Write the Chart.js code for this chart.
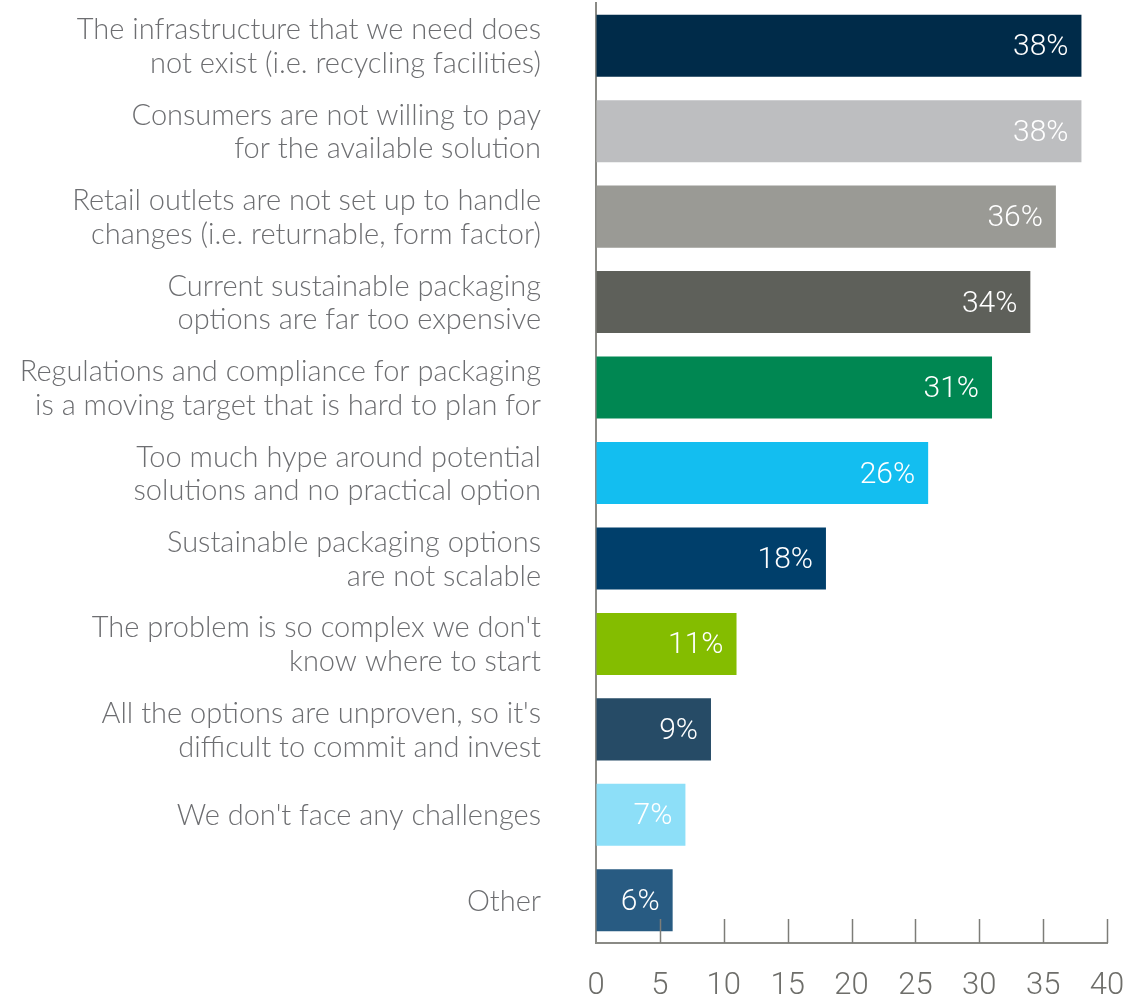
<!DOCTYPE html>
<html>
<head>
<meta charset="utf-8">
<script src="https://cdn.jsdelivr.net/npm/chart.js@4.4.1/dist/chart.umd.min.js"></script>
<style>
  html, body { margin: 0; padding: 0; background: #ffffff; }
  #wrap { position: relative; width: 1144px; height: 995px; }
</style>
</head>
<body>
<div id="wrap"><canvas id="c" width="1144" height="995"></canvas></div>
<script>
const categories = [
  ["The infrastructure that we need does", "not exist (i.e. recycling facilities)"],
  ["Consumers are not willing to pay", "for the available solution"],
  ["Retail outlets are not set up to handle", "changes (i.e. returnable, form factor)"],
  ["Current sustainable packaging", "options are far too expensive"],
  ["Regulations and compliance for packaging", "is a moving target that is hard to plan for"],
  ["Too much hype around potential", "solutions and no practical option"],
  ["Sustainable packaging options", "are not scalable"],
  ["The problem is so complex we don't", "know where to start"],
  ["All the options are unproven, so it's", "difficult to commit and invest"],
  ["We don't face any challenges"],
  ["Other"]
];
const values = [38, 38, 36, 34, 31, 26, 18, 11, 9, 7, 6];
const barColors = ["#002b49", "#bdbec0", "#9a9a95", "#5e605a", "#008752", "#13bef0",
                   "#003f6b", "#84bd00", "#264b66", "#8ddff8", "#285b82"];
const xTicks = [0, 5, 10, 15, 20, 25, 30, 35, 40];

const valueLabels = {
  id: 'valueLabels',
  afterDatasetsDraw(chart) {
    const ctx = chart.ctx;
    const meta = chart.getDatasetMeta(0);
    ctx.save();
    ctx.font = '300 30px Roboto, "Liberation Sans", sans-serif';
    ctx.fillStyle = '#ffffff';
    ctx.textAlign = 'right';
    ctx.textBaseline = 'middle';
    meta.data.forEach((bar, i) => {
      ctx.fillText(values[i] + '%', bar.x - 13, bar.y + 2);
    });
    ctx.restore();
  }
};

const upTicks = {
  id: 'upTicks',
  afterDraw(chart) {
    const ctx = chart.ctx;
    const xs = chart.scales.x;
    const bottom = chart.chartArea.bottom;
    ctx.save();
    ctx.strokeStyle = '#7d7d78';
    ctx.lineWidth = 1.5;
    xTicks.forEach(v => {
      if (v === 0) return;
      const px = Math.round(xs.getPixelForValue(v)) + 0.5;
      ctx.beginPath();
      ctx.moveTo(px, bottom);
      ctx.lineTo(px, bottom - 24);
      ctx.stroke();
    });
    ctx.restore();
  }
};

function noPad(scale) {
  scale.paddingTop = 0; scale.paddingBottom = 0;
  scale.paddingLeft = 0; scale.paddingRight = 0;
}

new Chart(document.getElementById('c'), {
  type: 'bar',
  data: {
    labels: categories,
    datasets: [{
      data: values,
      backgroundColor: barColors,
      borderWidth: 0,
      barPercentage: 0.726,
      categoryPercentage: 1.0
    }]
  },
  plugins: [valueLabels, upTicks],
  options: {
    indexAxis: 'y',
    responsive: false,
    animation: false,
    devicePixelRatio: 1,
    layout: { padding: { top: 3, right: 37, left: 0, bottom: 0 } },
    plugins: { legend: { display: false }, tooltip: { enabled: false } },
    scales: {
      x: {
        min: 0, max: 40,
        afterBuildTicks(scale) { scale.ticks = xTicks.map(v => ({ value: v })); },
        afterFit(scale) { scale.height = 52; noPad(scale); },
        grid: { display: true, drawOnChartArea: false, drawTicks: false },
        border: { display: true, color: '#8a8a85', width: 2 },
        ticks: {
          padding: 25,
          color: '#6e6e6a',
          font: { family: 'Roboto', size: 31, weight: '300' },
          callback: (v) => String(v)
        }
      },
      y: {
        afterFit(scale) { scale.width = 596; noPad(scale); },
        grid: { display: false, drawTicks: false },
        border: { display: true, color: '#8a8a85', width: 2 },
        ticks: {
          padding: 55,
          labelOffset: 1,
          color: '#6d6e71',
          font: { family: '"Lato Light", Lato', size: 29, weight: '300', lineHeight: 1.16 }
        }
      }
    }
  }
});
</script>
</body>
</html>
